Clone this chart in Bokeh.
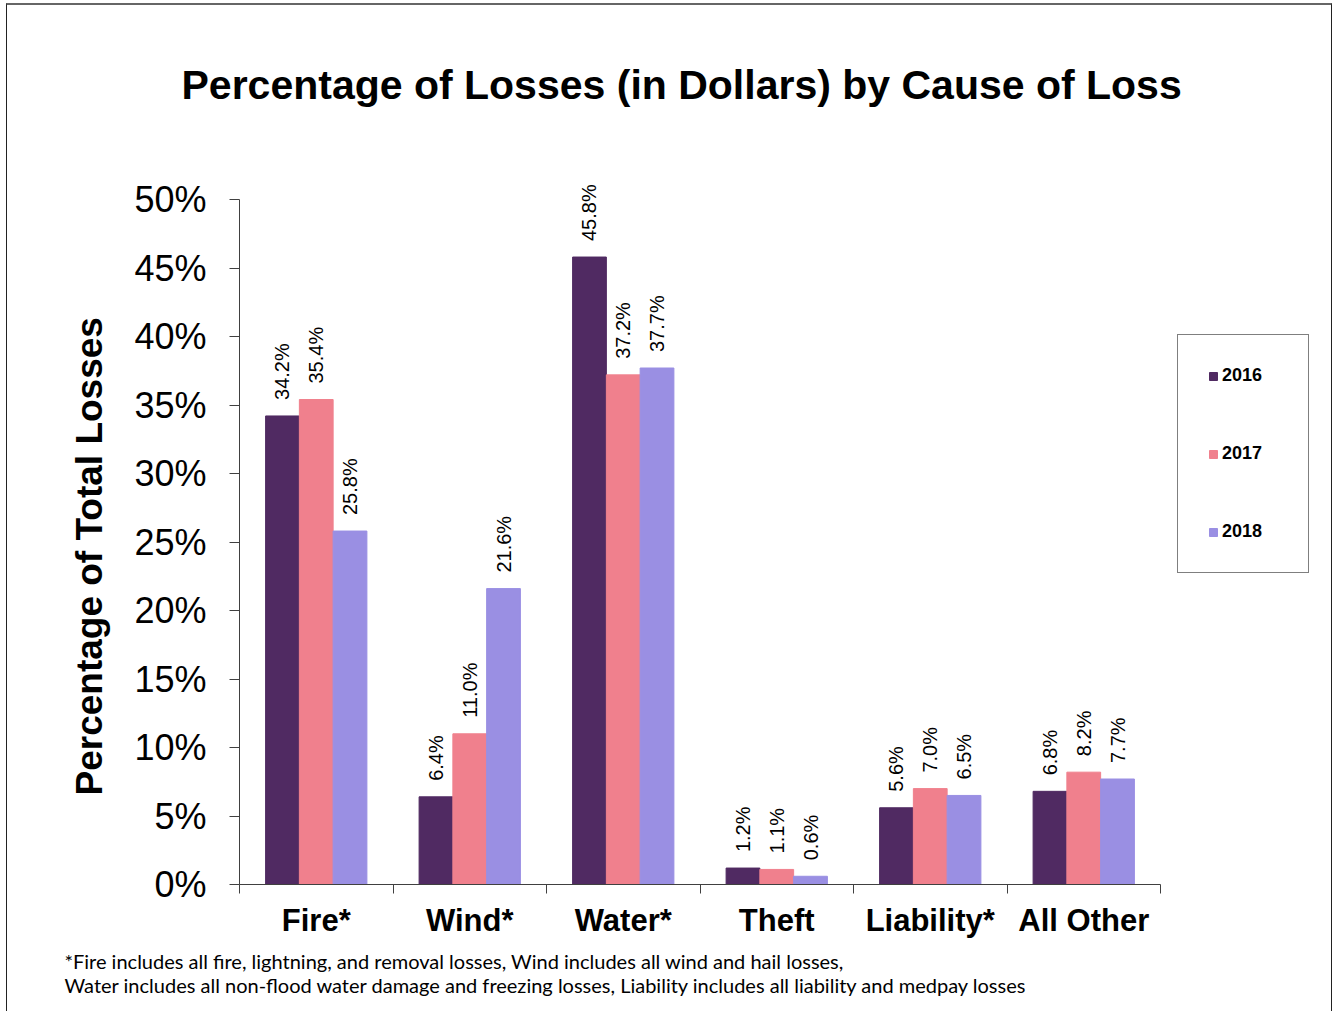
import math
from bokeh.plotting import figure
from bokeh.models import (FixedTicker, Legend, LegendItem, Title, ColumnDataSource,
                          PrintfTickFormatter, Range1d)
from bokeh.core.properties import value
from bokeh.embed import file_html
from bokeh.resources import INLINE

# ---- data ----
categories = ["Fire*", "Wind*", "Water*", "Theft", "Liability*", "All Other"]
years = ["2016", "2017", "2018"]
v2016 = [34.2, 6.4, 45.8, 1.2, 5.6, 6.8]
v2017 = [35.4, 11.0, 37.2, 1.1, 7.0, 8.2]
v2018 = [25.8, 21.6, 37.7, 0.6, 6.5, 7.7]
y_ticks = [0, 5, 10, 15, 20, 25, 30, 35, 40, 45, 50]
title_text = "Percentage of Losses (in Dollars) by Cause of Loss"
y_label = "Percentage of Total Losses"
footnote1 = "*Fire includes  all fire, lightning, and removal losses, Wind includes all wind and hail losses,"
footnote2 = "Water includes all non-flood water damage and freezing losses, Liability  includes all liability and medpay  losses"

colors = ["#502A62", "#F0808D", "#9A8FE3"]
FONT = "Liberation Sans"
AX = "#404040"

# layout geometry (pixels)
W, H = 1326, 1008
B_LEFT, B_RIGHT, B_TOP, B_BOTTOM = 232, 6, 145, 129
frame_w = W - B_LEFT - B_RIGHT
frame_h = H - B_TOP - B_BOTTOM
px_x = 921 / len(categories)      # pixels per category
px_y = 685 / 50                   # pixels per percent
x_end = frame_w / px_x
y_end = frame_h / px_y

p = figure(width=W, height=H, x_range=Range1d(0, x_end), y_range=Range1d(0, y_end),
           output_backend="svg", toolbar_location=None,
           min_border_left=B_LEFT, min_border_right=B_RIGHT,
           min_border_top=B_TOP, min_border_bottom=B_BOTTOM)
p.outline_line_color = None
p.xgrid.visible = False
p.ygrid.visible = False
p.styles = {"border-left": "1px solid #222", "border-right": "1px solid #222",
            "border-top": "2px solid #666", "margin-left": "6px", "margin-top": "3px"}

# chart title
p.add_layout(Title(text=title_text, align="left", offset=-58, vertical_align="bottom",
                   standoff=86, text_font=FONT, text_font_style="bold",
                   text_font_size="41px", text_color="#000000"), "above")

# bars
offsets = [-0.22, 0.0, 0.22]
renderers = []
for j, (yr, vals, col) in enumerate(zip(years, [v2016, v2017, v2018], colors)):
    xs = [i + 0.5 + offsets[j] for i in range(len(categories))]
    src = ColumnDataSource(dict(x=xs, top=vals, label=[f"{v:.1f}%" for v in vals]))
    r = p.vbar(x="x", top="top", width=0.22, source=src, fill_color=col, line_color=col)
    renderers.append((yr, r))
    p.text(x="x", y="top", text="label", source=src, angle=math.pi / 2,
           text_align="left", text_baseline="middle", text_font=value(FONT),
           text_font_size="20px", text_color="#000000", y_offset=-16)

# x axis
xt = [i + 0.5 for i in range(len(categories))]
p.xaxis.ticker = FixedTicker(ticks=xt, minor_ticks=list(range(len(categories) + 1)))
p.xaxis.bounds = (0, len(categories))
p.xaxis.major_label_overrides = {t: c for t, c in zip(xt, categories)}
p.xaxis.major_tick_line_color = None
p.xaxis.major_tick_out = 0
p.xaxis.minor_tick_out = 9
p.xaxis.minor_tick_in = 0
p.xaxis.minor_tick_line_color = AX
p.xaxis.axis_line_color = AX
p.xaxis.major_label_text_font = FONT
p.xaxis.major_label_text_font_style = "bold"
p.xaxis.major_label_text_font_size = "31px"
p.xaxis.major_label_text_color = "#000000"
p.xaxis.major_label_standoff = 9

# y axis
p.yaxis.ticker = FixedTicker(ticks=y_ticks)
p.yaxis.bounds = (0, 50)
p.yaxis.formatter = PrintfTickFormatter(format="%d%%")
p.yaxis.minor_tick_line_color = None
p.yaxis.major_tick_out = 10
p.yaxis.major_tick_in = 0
p.yaxis.major_tick_line_color = AX
p.yaxis.axis_line_color = AX
p.yaxis.major_label_text_font = FONT
p.yaxis.major_label_text_font_size = "36px"
p.yaxis.major_label_text_color = "#000000"
p.yaxis.major_label_standoff = 23

# y axis title, placed in the left panel (starts 89px above the x axis)
ylab = Title(text=y_label, align="left", offset=89, vertical_align="bottom", standoff=43,
             text_font=FONT, text_font_size="37px", text_font_style="bold",
             text_color="#000000")
p.add_layout(ylab, "left")

# legend (inside the extended frame, to the right of the bars)
legend = Legend(items=[LegendItem(label=yr, renderers=[r]) for yr, r in renderers],
                location=(938, 311), orientation="vertical",
                glyph_width=10, glyph_height=10, label_standoff=4, label_width=56,
                spacing=57, padding=30, margin=0,
                label_text_font=FONT, label_text_font_style="bold",
                label_text_font_size="18px", label_text_color="#000000",
                border_line_color="#000000", border_line_width=1,
                background_fill_color="#ffffff", background_fill_alpha=1)
p.add_layout(legend, "center")

# footnotes below the x axis
foot = Title(text=footnote1 + "\n" + footnote2, align="left", offset=-175,
             text_font="Lato", text_font_size="20px", text_font_style="normal",
             text_color="#000000", text_line_height=1.0, standoff=12)
p.add_layout(foot, "below")

open("out.html", "w").write(file_html(p, INLINE))
